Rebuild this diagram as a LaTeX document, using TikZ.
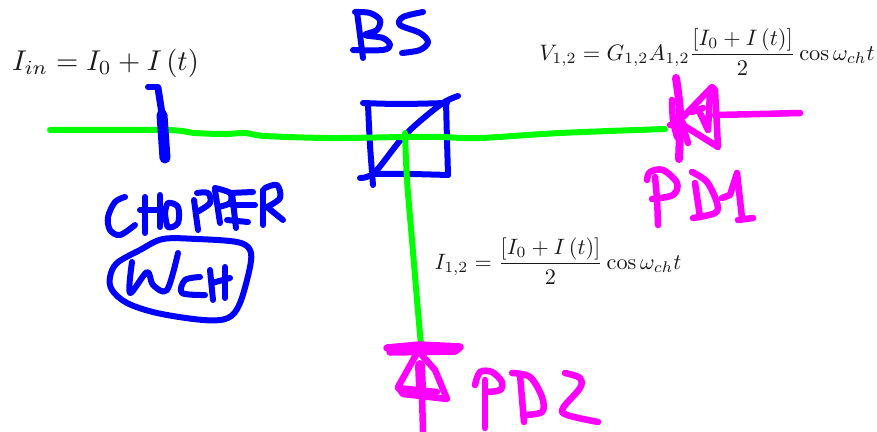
\documentclass[tikz,border=0pt]{standalone}
\usepackage{amsmath}
\usepackage{xcolor}
\definecolor{penblue}{RGB}{0,0,255}
\definecolor{pengreen}{RGB}{0,255,0}
\definecolor{penpink}{RGB}{255,0,255}
\tikzset{
  pen/.style={line width=6pt, line cap=round, line join=round},
  bluepen/.style={pen, color=penblue},
  greenpen/.style={pen, color=pengreen},
  pinkpen/.style={pen, color=penpink, line width=6.5pt},
  eqn/.style={inner sep=0pt, text=black!90, transform shape},
}
\newcommand{\stroke}[2]{\draw[#1] plot[smooth, tension=0.55] coordinates {#2};}
\begin{document}
\begin{tikzpicture}[x=1pt, y=-1pt]
  \useasboundingbox (0,0) rectangle (877,431);

  % BS cube
  \stroke{bluepen}{(363,103) (400,104) (447,103)}
  \stroke{bluepen}{(368,105) (370,145) (373,185)}
  \stroke{bluepen}{(373,174) (410,174) (448,175)}
  \stroke{bluepen}{(446,101) (447,140) (448,175)}
  \stroke{bluepen}{(360,178) (375,172) (405,135) (440,105) (458,96)}
  % BS label
  \stroke{bluepen}{(355,12) (370,13) (380,20) (377,30) (365,35) (383,38) (390,45) (383,50) (353,50)}
  \stroke{bluepen}{(357,12) (360,35) (363,58)}
  \stroke{bluepen}{(423,12) (403,17) (400,25) (420,33) (428,42) (420,50) (402,53)}

  % beams
  \stroke{greenpen}{(50,130) (165,130) (195,133) (225,134) (245,133) (265,136) (330,138) (405,137) (440,137) (480,138) (560,133) (665,129)}
  \stroke{greenpen}{(405,133) (407,180) (412,240) (417,300) (421,345)}

  % chopper blade
  \draw[bluepen] (148,87) -- (158,87);
  \draw[bluepen, line width=7pt] (158,88) -- (163,120);
  \draw[bluepen, line width=11pt] (162,115) -- (165,158);

  % chopper label
  \stroke{bluepen}{(125,197) (115,202) (108,217) (110,230) (120,235) (135,225)}
  \draw[bluepen] (145,197) -- (145,233);
  \draw[bluepen] (140,210) -- (160,210);
  \draw[bluepen] (160,195) -- (160,227);
  \stroke{bluepen}{(165,213) (168,227) (178,223) (178,207) (168,203) (165,213)}
  \draw[bluepen] (194,200) -- (198,230);
  \stroke{bluepen}{(197,193) (208,193) (210,203) (197,212)}
  \draw[bluepen] (215,190) -- (220,223);
  \stroke{bluepen}{(215,188) (230,193) (230,203) (218,207)}
  \draw[bluepen] (230,193) -- (253,192);
  \draw[bluepen] (232,205) -- (255,205);
  \draw[bluepen] (227,220) -- (248,222);
  \draw[bluepen] (232,193) -- (236,228);
  \draw[bluepen] (263,190) -- (263,225);
  \stroke{bluepen}{(265,188) (277,185) (280,198) (267,207)}
  \draw[bluepen] (267,207) -- (283,220);

  % chopper frequency box
  \draw[bluepen] plot[smooth cycle, tension=0.55] coordinates {(117,263) (140,250) (163,239) (197,239) (237,242) (250,250) (250,267) (240,303) (228,318) (203,320) (157,313) (127,303) (112,290) (110,277)};
  \stroke{bluepen}{(132,262) (130,293) (147,272) (153,285) (167,290) (178,253)}
  \stroke{bluepen}{(200,277) (185,280) (182,293) (205,295)}
  \draw[bluepen] (210,270) -- (213,300);
  \draw[bluepen] (225,267) -- (225,298);
  \draw[bluepen] (212,283) -- (230,278);

  % PD1 diode
  \stroke{pinkpen, line width=8pt}{(676,78) (680,113) (679,159)}
  \stroke{pinkpen}{(672,100) (673,120) (677,137)}
  \draw[pinkpen] (670,125) -- (683,123);
  \draw[pinkpen] (683,127) -- (688,143);
  \draw[pinkpen] (683,117) -- (712,87) -- (715,90) -- (718,147) -- (683,125);
  \draw[pinkpen] (700,113) -- (708,130) -- (710,93);
  \draw[pinkpen] (692,112) -- (703,108);
  \draw[pinkpen] (715,115) -- (760,114) -- (800,113);
  % PD1 label
  \stroke{pinkpen}{(655,177) (657,200) (658,225)}
  \stroke{pinkpen}{(647,180) (650,172) (663,170) (677,183) (673,195) (652,199)}
  \stroke{pinkpen}{(692,172) (707,182) (717,203) (715,213) (693,218)}
  \draw[pinkpen] (695,183) -- (700,217);
  \draw[pinkpen] (722,198) -- (730,195) -- (737,173) -- (742,218);
  \draw[pinkpen] (738,220) -- (753,218);

  % PD2 diode
  \draw[pinkpen, line width=7.5pt] (387,348) -- (420,345) -- (460,347) -- (455,351) -- (390,352);
  \draw[pinkpen] (417,353) -- (398,387) -- (403,394) -- (447,399) -- (435,370) -- (420,353);
  \draw[pinkpen] (398,388) -- (437,392);
  \draw[pinkpen, line width=10pt] (420,365) -- (421,388);
  \draw[pinkpen] (422,395) -- (423,431);
  % PD2 label
  \draw[pinkpen] (485,380) -- (485,428);
  \stroke{pinkpen}{(475,385) (480,372) (492,372) (502,382) (500,390) (487,392)}
  \stroke{pinkpen}{(512,373) (530,377) (542,397) (542,412) (523,415)}
  \draw[pinkpen] (520,375) -- (524,422);
  \stroke{pinkpen}{(565,373) (580,378) (580,388) (563,408) (567,415) (598,422)}

  % equations
  \node[eqn, scale=2.86] (inbeam) at (105.5,63) {$I_{in}=I_0+I\left(t\right)$};
  \node[eqn, scale=2.24] (voltage) at (707,52) {$\displaystyle V_{1,2}=G_{1,2}A_{1,2}\frac{\left[I_0+I\left(t\right)\right]}{2}\cos\omega_{ch}t$};
  \node[eqn, scale=2.22] (intensity) at (558,261) {$\displaystyle I_{1,2}=\frac{\left[I_0+I\left(t\right)\right]}{2}\cos\omega_{ch}t$};
\end{tikzpicture}
\end{document}
